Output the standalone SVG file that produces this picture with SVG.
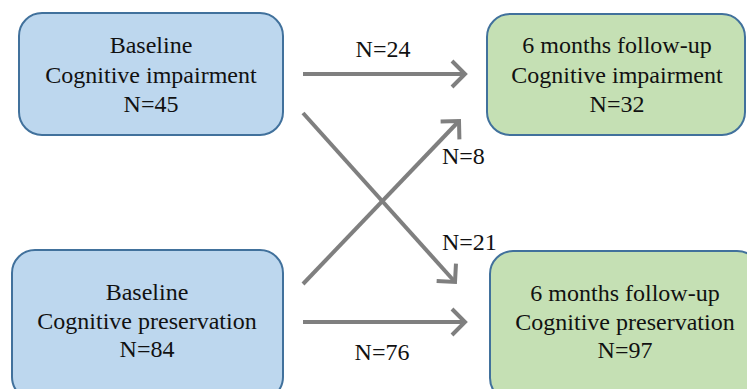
<svg xmlns="http://www.w3.org/2000/svg" width="747" height="389" viewBox="0 0 747 389">
<style>
.base{fill:#bdd7ee;stroke:#41719c;stroke-width:2}
.fol{fill:#c5e0b4;stroke:#41719c;stroke-width:2}
.t{fill:#111;text-anchor:middle}
.lbl{fill:#111;text-anchor:start}
.conn line{stroke:#7f7f7f;stroke-width:4}
</style>
<defs>
<marker id="ah" viewBox="0 0 12 12" refX="10" refY="6" markerWidth="12" markerHeight="12" markerUnits="userSpaceOnUse" orient="auto" overflow="visible">
<path d="M-3,-7 L10,6 L-3,19" fill="none" stroke="#7f7f7f" stroke-width="4"/>
</marker>
</defs>
<rect width="747" height="389" fill="#fff"/>
<g id="baseline-impairment">
<rect class="base" x="19" y="13" width="264" height="122" rx="23"/>
<text class="t" x="151" y="53" font-size="24" font-family="Liberation Serif">Baseline</text>
<text class="t" x="151" y="83" font-size="24" font-family="Liberation Serif">Cognitive impairment</text>
<text class="t" x="151" y="112" font-size="24" font-family="Liberation Serif">N=45</text>
</g>
<g id="followup-impairment">
<rect class="fol" x="487" y="14" width="258" height="121" rx="23"/>
<text class="t" x="617" y="53" font-size="24" font-family="Liberation Serif">6 months follow-up</text>
<text class="t" x="617" y="83" font-size="24" font-family="Liberation Serif">Cognitive impairment</text>
<text class="t" x="617" y="112" font-size="24" font-family="Liberation Serif">N=32</text>
</g>
<g id="baseline-preservation">
<rect class="base" x="12" y="250" width="271" height="150" rx="23"/>
<text class="t" x="147" y="300" font-size="24" font-family="Liberation Serif">Baseline</text>
<text class="t" x="147" y="329" font-size="24" font-family="Liberation Serif">Cognitive preservation</text>
<text class="t" x="147" y="357" font-size="24" font-family="Liberation Serif">N=84</text>
</g>
<g id="followup-preservation">
<rect class="fol" x="490" y="251" width="270" height="150" rx="23"/>
<text class="t" x="625" y="301" font-size="24" font-family="Liberation Serif">6 months follow-up</text>
<text class="t" x="625" y="330" font-size="24" font-family="Liberation Serif">Cognitive preservation</text>
<text class="t" x="625" y="358" font-size="24" font-family="Liberation Serif">N=97</text>
</g>
<g id="connectors" class="conn">
<line x1="303" y1="74" x2="465" y2="74" marker-end="url(#ah)"/>
<line x1="303" y1="322" x2="465" y2="322" marker-end="url(#ah)"/>
<line x1="303" y1="113" x2="455" y2="282" marker-end="url(#ah)"/>
<line x1="303" y1="284" x2="459" y2="121" marker-end="url(#ah)"/>
<text class="t" x="383" y="57" font-size="24" font-family="Liberation Serif">N=24</text>
<text class="lbl" x="442" y="164" font-size="24" font-family="Liberation Serif">N=8</text>
<text class="lbl" x="442" y="250" font-size="24" font-family="Liberation Serif">N=21</text>
<text class="t" x="382" y="360" font-size="24" font-family="Liberation Serif">N=76</text>
</g>
</svg>
